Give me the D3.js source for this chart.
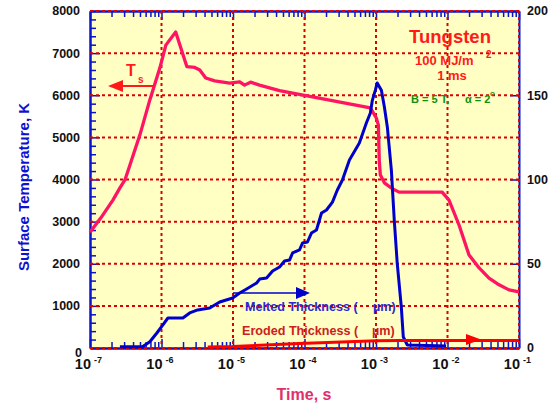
<!DOCTYPE html>
<html>
<head>
<script src="https://d3js.org/d3.v7.min.js"></script>
<style>
body { margin: 0; background: #fff; }
text { font-family: "Liberation Sans", Arial, sans-serif; font-weight: bold; }
</style>
</head>
<body>
<svg id="chart" width="552" height="403"></svg>
<script>
// surface temperature (K) vs time (s)
var tsTime = [1e-7, 1.42e-7, 2.09e-7, 2.62e-7, 3.08e-7, 3.61e-7, 4.99e-7, 6.87e-7, 9.5e-7, 1.15e-6,
  1.58e-6, 2.26e-6, 2.92e-6, 3.43e-6, 4.16e-6, 5.55e-6, 8.98e-6, 1.24e-5, 1.45e-5, 1.76e-5,
  2.35e-5, 4.48e-5, 8.33e-4, 9.19e-4, 1.01e-3, 1.08e-3, 1.11e-3, 1.15e-3, 1.31e-3, 1.69e-3,
  2.11e-3, 8.41e-3, 1.05e-2, 1.45e-2, 2.0e-2, 2.77e-2, 3.81e-2, 5.26e-2, 7.25e-2, 1e-1];
var tsTemp = [2750, 3090, 3510, 3800, 3990, 4340, 5060, 5890, 6650, 7190,
  7500, 6680, 6660, 6600, 6410, 6340, 6290, 6320, 6240, 6310,
  6240, 6110, 5700, 5580, 5460, 5290, 4460, 4110, 3920, 3780,
  3700, 3700, 3510, 2920, 2210, 1900, 1660, 1500, 1380, 1330];

// melted thickness (um)
var meltTime = [2.62e-7, 5.48e-7, 6.87e-7, 8.61e-7, 1.04e-6, 1.23e-6, 1.99e-6, 2.48e-6, 3.21e-6, 4.72e-6,
  6.52e-6, 9.89e-6, 1.24e-5, 1.55e-5, 2.14e-5, 2.36e-5, 2.95e-5, 3.58e-5, 4.48e-5, 5.26e-5,
  6.18e-5, 6.81e-5, 8.52e-5, 9.38e-5, 1.10e-4, 1.25e-4, 1.47e-4, 1.73e-4, 2.03e-4, 2.46e-4,
  2.88e-4, 3.39e-4, 4.25e-4, 5.85e-4, 7.33e-4, 8.34e-4, 8.89e-4, 9.79e-4, 1.04e-3, 1.19e-3,
  1.31e-3, 1.44e-3, 1.64e-3, 1.80e-3, 1.98e-3, 2.26e-3, 2.41e-3, 2.74e-3, 9.57e-3];
var meltDepth = [0.8, 0.9, 3.7, 8.9, 13.6, 17.8, 17.8, 20.8, 22.6, 23.7,
  27.3, 29.7, 32.6, 35.0, 38.6, 40.9, 41.5, 45.7, 48.1, 51.6,
  52.2, 56.4, 58.2, 62.3, 62.9, 68.2, 70.0, 80.1, 81.9, 86.6,
  93.8, 99.7, 111.6, 121.7, 133.5, 139.5, 147, 153, 157.3, 153,
  143, 131.2, 105.6, 76, 50.4, 24.3, 6.5, 1.8, 1.2];

// eroded thickness (um)
var erodeTime = [4.43e-6, 9.89e-6, 8.52e-5, 1.01e-3, 2.11e-3, 1e-1];
var erodeDepth = [0.6, 0.9, 2.7, 4.3, 4.4, 4.4];

var tempTicks = [0, 1000, 2000, 3000, 4000, 5000, 6000, 7000, 8000];
var thickTicks = [0, 50, 100, 150, 200];
var decadeExp = [-7, -6, -5, -4, -3, -2, -1];

var svg = d3.select("#chart");
var pL = 90, pR = 519, pT = 11, pB = 348;

var x = d3.scaleLog().domain([1e-7, 1e-1]).range([pL, pR]);
var yT = d3.scaleLinear().domain([0, 8000]).range([pB, pT]);
var yD = d3.scaleLinear().domain([0, 200]).range([pB, pT]);

var decades = decadeExp.map(function (e) { return Math.pow(10, e); });
var minorX = [];
decades.slice(0, -1).forEach(function (d) {
  for (var k = 2; k <= 9; k++) minorX.push(k * d);
});
var minorT = d3.range(200, 8000, 200).filter(function (v) { return v % 1000 != 0; });

svg.append("rect")
  .attr("x", pL).attr("y", pT)
  .attr("width", pR - pL).attr("height", pB - pT)
  .attr("fill", "#ffffc4");

// axes lines and ticks (blue, inward)
var blue = "#0a14c8";
function styleAxis(g) {
  g.selectAll("path").attr("stroke", blue).attr("stroke-width", 2);
  g.selectAll("line").attr("stroke", blue).attr("stroke-width", 1.5);
  g.selectAll("text").remove();
}
svg.append("g").attr("transform", "translate(0," + pB + ")")
  .call(d3.axisBottom(x).tickValues(minorX).tickSize(-6).tickSizeOuter(0).tickFormat("")).call(styleAxis);
svg.append("g").attr("transform", "translate(0," + pB + ")")
  .call(d3.axisBottom(x).tickValues(decades).tickSize(-9).tickSizeOuter(0).tickFormat("")).call(styleAxis);
svg.append("g").attr("transform", "translate(0," + pT + ")")
  .call(d3.axisTop(x).tickValues(minorX).tickSize(-6).tickSizeOuter(0).tickFormat("")).call(styleAxis);
svg.append("g").attr("transform", "translate(0," + pT + ")")
  .call(d3.axisTop(x).tickValues(decades).tickSize(-9).tickSizeOuter(0).tickFormat("")).call(styleAxis);
svg.append("g").attr("transform", "translate(" + pL + ",0)")
  .call(d3.axisLeft(yT).tickValues(minorT).tickSize(-6).tickSizeOuter(0).tickFormat("")).call(styleAxis);
svg.append("g").attr("transform", "translate(" + pL + ",0)")
  .call(d3.axisLeft(yT).tickValues(tempTicks).tickSize(-10).tickSizeOuter(0).tickFormat("")).call(styleAxis);
svg.append("g").attr("transform", "translate(" + pR + ",0)")
  .call(d3.axisRight(yD).tickValues(thickTicks).tickSize(-9).tickSizeOuter(0).tickFormat("")).call(styleAxis);

// dotted red grid
var grid = svg.append("g").attr("stroke", "#dd0000").attr("stroke-width", 2).attr("stroke-dasharray", "3,3");
grid.selectAll(".h").data(tempTicks).join("line")
  .attr("x1", pL).attr("x2", pR)
  .attr("y1", function (d) { return yT(d); }).attr("y2", function (d) { return yT(d); });
grid.selectAll(".v").data(decades.slice(1)).join("line")
  .attr("y1", pT).attr("y2", pB)
  .attr("x1", function (d) { return x(d); }).attr("x2", function (d) { return x(d); });

// curves
var lineT = d3.line().x(function (d) { return x(d[0]); }).y(function (d) { return yT(d[1]); });
var lineD = d3.line().x(function (d) { return x(d[0]); }).y(function (d) { return yD(d[1]); });

svg.append("path").datum(d3.zip(tsTime, tsTemp)).attr("d", lineT)
  .attr("fill", "none").attr("stroke", "#ff1464").attr("stroke-width", 3.3).attr("stroke-linejoin", "round");
svg.append("path").datum(d3.zip(meltTime, meltDepth)).attr("d", lineD)
  .attr("fill", "none").attr("stroke", "#0000cc").attr("stroke-width", 3).attr("stroke-linejoin", "round");
svg.append("path").datum(d3.zip(erodeTime, erodeDepth)).attr("d", lineD)
  .attr("fill", "none").attr("stroke", "#ff0000").attr("stroke-width", 3);

// tick labels
svg.selectAll(".tl").data(tempTicks.slice(1)).join("text")
  .attr("x", 80).attr("y", function (d) { return yT(d); }).attr("dy", "0.35em")
  .attr("text-anchor", "end").attr("font-size", 12.5).attr("fill", "#111")
  .text(function (d) { return d; });
svg.append("text").attr("x", 82).attr("y", 357).attr("text-anchor", "end")
  .attr("font-size", 12.5).attr("fill", "#111").text("0");
svg.selectAll(".tr").data(thickTicks).join("text")
  .attr("x", 527).attr("y", function (d) { return yD(d); }).attr("dy", "0.35em")
  .attr("font-size", 12.5).attr("fill", "#111").text(function (d) { return d; });

var xl = svg.selectAll(".xl").data(decadeExp).join("g")
  .attr("transform", function (d) { return "translate(" + x(Math.pow(10, d)) + ",369)"; });
xl.append("text").attr("x", 1).attr("text-anchor", "end").attr("font-size", 14.5).attr("fill", "#111").text("10");
xl.append("text").attr("x", 4).attr("y", -6).attr("font-size", 9).attr("fill", "#111")
  .text(function (d) { return "-" + Math.abs(d); });

// axis titles
svg.append("text").attr("transform", "translate(29,187) rotate(-90)")
  .attr("text-anchor", "middle").attr("font-size", 15).attr("fill", "#1010d0")
  .text("Surface Temperature, K");
svg.append("text").attr("x", 304).attr("y", 400).attr("text-anchor", "middle")
  .attr("font-size", 16).attr("fill", "#e0306a").text("Time, s");

// annotations
svg.append("text").attr("x", 450).attr("y", 43).attr("text-anchor", "middle")
  .attr("font-size", 18.5).attr("fill", "#ff1a1a").text("Tungsten");
svg.append("text").attr("x", 415).attr("y", 65).attr("font-size", 13).attr("fill", "#ff1a1a").text("100 MJ/m");
svg.append("text").attr("x", 486).attr("y", 58).attr("font-size", 10).attr("fill", "#ff1a1a").text("2");
svg.append("text").attr("x", 452).attr("y", 80).attr("text-anchor", "middle")
  .attr("font-size", 13).attr("fill", "#ff1a1a").text("1 ms");
svg.append("text").attr("x", 411).attr("y", 103).attr("font-size", 11).attr("fill", "#10900a").text("B = 5 T,");
svg.append("text").attr("x", 465).attr("y", 103).attr("font-size", 11).attr("fill", "#10900a").text("\u03b1 = 2");
svg.append("text").attr("x", 490).attr("y", 96).attr("font-size", 8).attr("fill", "#10900a").text("o");

svg.append("line").attr("x1", 120).attr("x2", 153).attr("y1", 86).attr("y2", 86)
  .attr("stroke", "#ff1a1a").attr("stroke-width", 2);
svg.append("path").attr("d", "M108,86 L123,80 L123,92 Z").attr("fill", "#ff1a1a");
svg.append("text").attr("x", 126).attr("y", 76).attr("font-size", 16).attr("fill", "#ff1a1a").text("T");
svg.append("text").attr("x", 138).attr("y", 83).attr("font-size", 10).attr("fill", "#ff1a1a").text("s");

svg.append("line").attr("x1", 233).attr("x2", 300).attr("y1", 293).attr("y2", 293)
  .attr("stroke", "#0000cc").attr("stroke-width", 1.5);
svg.append("path").attr("d", "M310,293 L296,287 L296,299 Z").attr("fill", "#0000cc");

svg.append("path").attr("d", "M481,339.5 L466,334 L466,345 Z").attr("fill", "#ff0000");

svg.append("text").attr("x", 245).attr("y", 311).attr("font-size", 12.6).attr("fill", "#2a2ad0").text("Melted Thickness (");
svg.append("text").attr("x", 373).attr("y", 311).attr("font-size", 12.6).attr("fill", "#2a2ad0").text("\u00b5m)");
svg.append("text").attr("x", 242).attr("y", 335).attr("font-size", 12.6).attr("fill", "#cc2020").text("Eroded Thickness (");
svg.append("text").attr("x", 372).attr("y", 335).attr("font-size", 12.6).attr("fill", "#cc2020").text("\u00b5m)");
</script>
</body>
</html>
